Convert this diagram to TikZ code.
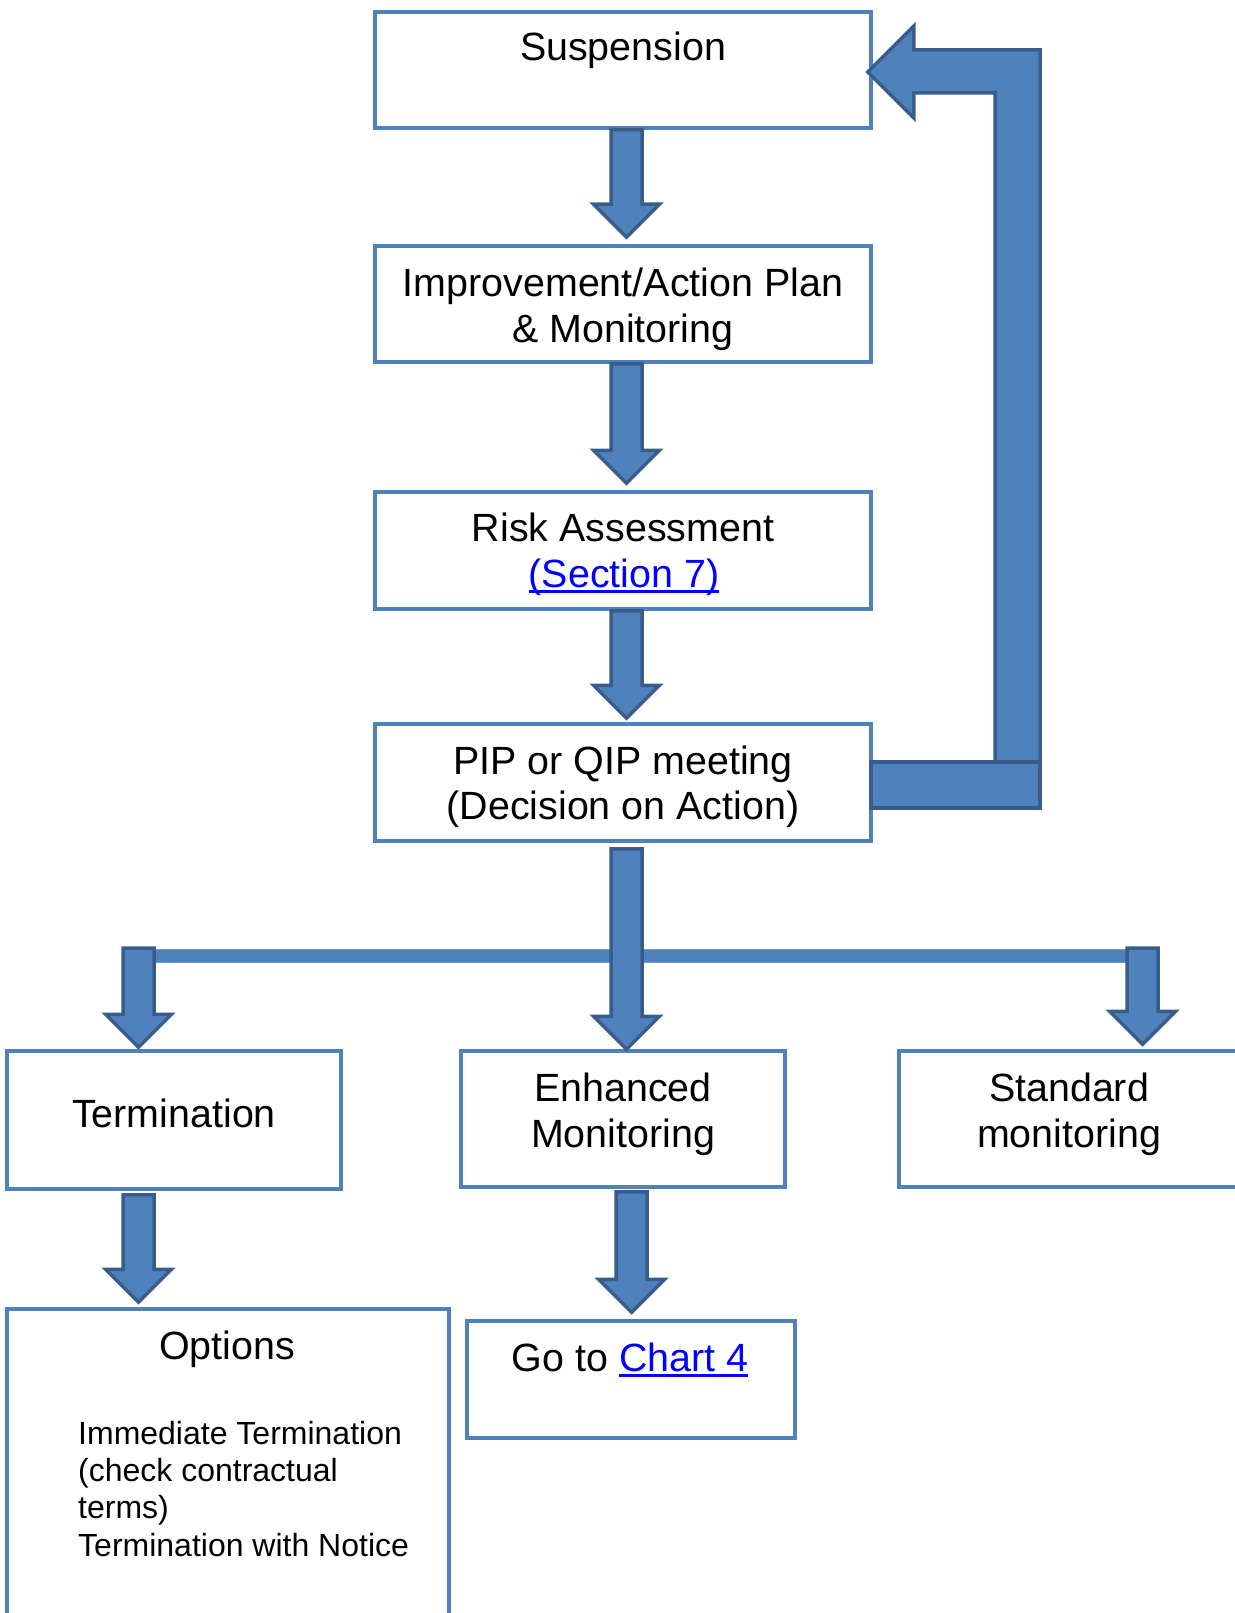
\documentclass[tikz,border=0pt]{standalone}
\usepackage{fontspec}
\setmainfont{Liberation Sans}
\usetikzlibrary{calc}

\definecolor{boxblue}{HTML}{4F81BD}
\definecolor{edgeblue}{HTML}{385D8A}
\definecolor{linkblue}{HTML}{0000FF}

% hyperlink-style text: blue with a solid underline just below the baseline
\newcommand\linktext[1]{{\color{linkblue}\setbox0\hbox{#1}%
  \rlap{\rule[-6pt]{\wd0}{3pt}}\box0}}

% block arrow pointing down: #1 = start (x centre, top), #2 = tip (only y used)
\newcommand\downblock[2]{%
  \filldraw[blockarrow] let \p1=#1, \p2=#2 in
    ({\x1-15.5pt},\y1) -- ({\x1-15.5pt},{\y2+33pt}) -- ({\x1-33pt},{\y2+33pt})
    -- (\x1,\y2) -- ({\x1+33pt},{\y2+33pt}) -- ({\x1+15.5pt},{\y2+33pt})
    -- ({\x1+15.5pt},\y1) -- cycle;}

\tikzset{
  box/.style={draw=boxblue, line width=3.5pt, fill=white, inner sep=0pt},
  bigtext/.style={inner sep=0pt, anchor=base, font=\fontsize{39.4}{46}\selectfont},
  smalltext/.style={inner sep=0pt, anchor=base west, font=\fontsize{32}{37.3}\selectfont},
  blockarrow/.style={fill=boxblue, draw=edgeblue, line width=3.5pt, line join=miter},
  busbar/.style={fill=boxblue, draw=boxblue!80!white, line width=1pt},
}

\begin{document}
\begin{tikzpicture}[x=1pt, y=-1pt]
\useasboundingbox (0,0) rectangle (1234,1613);

% ---- boxes ----
\node[box, minimum width=496pt, minimum height=116pt] (susp)  at (623,70)    {};
\node[box, minimum width=496pt, minimum height=116pt] (plan)  at (623,304)   {};
\node[box, minimum width=496pt, minimum height=117pt] (risk)  at (623,550.5) {};
\node[box, minimum width=496pt, minimum height=117pt] (pip)   at (623,782.5) {};
\node[box, minimum width=334pt, minimum height=138pt] (term)  at (174,1120)  {};
\node[box, minimum width=324pt, minimum height=136pt] (enh)   at (623,1119)  {};
\node[box, minimum width=340pt, minimum height=136pt] (std)   at (1069,1119) {};
\node[box, minimum width=442pt, minimum height=311pt] (opt)   at (228,1464.5){};
\node[box, minimum width=328pt, minimum height=117pt] (chart) at (631,1379.5){};

% ---- texts ----
\node[bigtext] (susp-t)  at (623,61)   {Suspension};
\node[bigtext] (plan-t1) at (623,296)  {Improvement/Action Plan};
\node[bigtext] (plan-t2) at (623,342)  {\& Monitoring};
\node[bigtext] (risk-t1) at (623,541)  {Risk Assessment};
\node[bigtext] (risk-t2) at (624,587)  {\linktext{(Section 7)}};
\node[bigtext] (pip-t1)  at (623,774)  {PIP or QIP meeting};
\node[bigtext] (pip-t2)  at (623,819)  {(Decision on Action)};
\node[bigtext] (term-t)  at (174,1127) {Termination};
\node[bigtext] (enh-t1)  at (623,1101) {Enhanced};
\node[bigtext] (enh-t2)  at (623,1147) {Monitoring};
\node[bigtext] (std-t1)  at (1069,1101){Standard};
\node[bigtext] (std-t2)  at (1069,1147){monitoring};
\node[bigtext] (opt-t)   at (227,1359) {Options};
\node[smalltext] (opt-l1) at (78,1444.5) {Immediate Termination};
\node[smalltext] (opt-l2) at (78,1481.5) {(check contractual};
\node[smalltext] (opt-l3) at (78,1518.5) {terms)};
\node[smalltext] (opt-l4) at (78,1556.5) {Termination with Notice};
\node[bigtext] (chart-t) at (630,1371) {Go to \linktext{Chart 4}};

% ---- straight chain ----
\downblock{($(susp.south)+(3.5,0)$)}{($(plan.north)+(0,-7)$)}
\downblock{($(plan.south)+(3.5,0)$)}{($(risk.north)+(0,-7)$)}
\downblock{($(risk.south)+(3.5,0)$)}{($(pip.north)+(0,-4)$)}

% ---- branching bus below the meeting ----
\coordinate (busL) at (138.5,948);
\coordinate (busR) at (1142.5,948);
\filldraw[busbar] ($(busL)+(-15.5,1)$) rectangle ($(busR)+(16.5,14)$);
\downblock{(busL)}{($(term.north)+(0,-2)$)}
\downblock{(busR)}{($(std.north)+(0,-5)$)}
\downblock{($(pip.south)+(3.5,6)$)}{(enh.north)}

% ---- lower arrows ----
\downblock{($(term.south)+(-35.5,4)$)}{($(opt.north)+(0,-5)$)}
\downblock{($(enh.south)+(8.5,3)$)}{($(chart.north)+(0,-7)$)}

% ---- feedback loop from the meeting back to suspension ----
\filldraw[blockarrow] let \p1=($(susp.east)+(-5,2)$), \p2=($(pip.east)+(-2,2.5)$) in
  (\x1,\y1) -- ({\x1+46pt},{\y1+46pt}) -- ({\x1+46pt},{\y1+22pt})
  -- (1040pt,{\y1+22pt}) -- (1040pt,{\y2+23pt}) -- (995pt,{\y2+23pt})
  -- (995pt,{\y1-21pt}) -- ({\x1+46pt},{\y1-21pt}) -- ({\x1+46pt},{\y1-46pt}) -- cycle;
\filldraw[blockarrow] let \p2=($(pip.east)+(-2,2.5)$) in
  (\x2,{\y2+23pt}) rectangle (1040pt,{\y2-23pt});
\end{tikzpicture}
\end{document}
